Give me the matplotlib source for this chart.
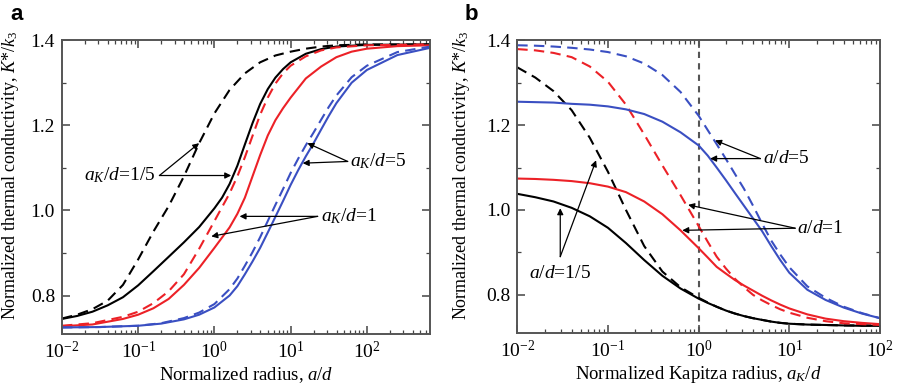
import matplotlib
matplotlib.use('Agg')
import matplotlib.pyplot as plt
from matplotlib.ticker import AutoMinorLocator, LogLocator, NullFormatter

plt.rcParams['font.family'] = ['Liberation Serif', 'DejaVu Serif']
plt.rcParams['mathtext.fontset'] = 'custom'
plt.rcParams['mathtext.rm'] = 'Liberation Serif'
plt.rcParams['mathtext.it'] = 'Liberation Serif:italic'
plt.rcParams['mathtext.bf'] = 'Liberation Serif:bold'

RED = '#ec2127'
BLUE = '#3a4fc2'

# ---- panel a: K*/k3 vs a/d ----
# aK/d = 1/5
a_x_k15_solid = [0.01, 0.0158, 0.0251, 0.0398, 0.0631, 0.1, 0.158, 0.251, 0.398, 0.631, 1.0, 1.26, 1.58, 2.0, 2.51,
                 3.16, 3.98, 5.01, 6.31, 7.94, 10, 15.8, 25.1, 39.8, 100, 676]
a_y_k15_solid = [0.745, 0.752, 0.762, 0.777, 0.796, 0.824, 0.857, 0.891, 0.925, 0.961, 1.005, 1.03, 1.062, 1.105, 1.155,
                 1.205, 1.25, 1.285, 1.312, 1.332, 1.348, 1.368, 1.379, 1.385, 1.389, 1.39]
a_x_k15_dash = [0.01, 0.0158, 0.0251, 0.0398, 0.0631, 0.1, 0.158, 0.251, 0.398, 0.631, 1.0, 1.58, 2.51, 3.98, 6.31,
                10, 15.8, 25.1, 39.8, 100, 676]
a_y_k15_dash = [0.746, 0.755, 0.768, 0.788, 0.825, 0.885, 0.95, 1.01, 1.08, 1.158, 1.228, 1.283, 1.322, 1.348, 1.364,
                1.373, 1.38, 1.385, 1.388, 1.39, 1.39]
# aK/d = 1
a_x_k1_solid = [0.01, 0.0251, 0.0631, 0.1, 0.158, 0.251, 0.398, 0.631, 1.0, 1.58, 2.0, 2.51, 3.16, 3.98, 5.01, 6.31,
                7.94, 10, 15.8, 25.1, 39.8, 63.1, 100, 251, 676]
a_y_k1_solid = [0.728, 0.732, 0.745, 0.755, 0.77, 0.792, 0.825, 0.865, 0.912, 0.96, 0.992, 1.03, 1.08, 1.13, 1.176, 1.212,
                1.24, 1.265, 1.31, 1.338, 1.36, 1.373, 1.38, 1.386, 1.388]
a_x_k1_dash = [0.01, 0.0251, 0.0631, 0.1, 0.158, 0.251, 0.398, 0.631, 1.0, 1.58, 2.0, 2.51, 3.16, 3.98, 5.01, 6.31,
               7.94, 10, 15.8, 25.1, 39.8, 100, 676]
a_y_k1_dash = [0.729, 0.735, 0.75, 0.762, 0.782, 0.81, 0.85, 0.91, 0.975, 1.04, 1.08, 1.125, 1.175, 1.225, 1.265, 1.298,
               1.322, 1.34, 1.362, 1.376, 1.383, 1.388, 1.39]
# aK/d = 5
a_x_k5_solid = [0.01, 0.0316, 0.1, 0.2, 0.398, 0.631, 1.0, 1.58, 2.0, 2.51, 3.16, 3.98, 5.01, 6.31, 7.94, 10, 12.6,
                15.8, 20, 25.1, 31.6, 39.8, 63.1, 100, 251, 676]
a_y_k5_solid = [0.725, 0.726, 0.729, 0.734, 0.744, 0.755, 0.772, 0.80, 0.822, 0.85, 0.88, 0.912, 0.948, 0.985, 1.022,
                1.06, 1.095, 1.127, 1.158, 1.19, 1.222, 1.252, 1.30, 1.33, 1.365, 1.382]
a_x_k5_dash = [0.01, 0.0316, 0.1, 0.2, 0.398, 0.631, 1.0, 1.58, 2.0, 2.51, 3.16, 3.98, 5.01, 6.31, 7.94, 10, 12.6,
               15.8, 20, 25.1, 31.6, 39.8, 63.1, 100, 251, 676]
a_y_k5_dash = [0.725, 0.726, 0.729, 0.735, 0.747, 0.76, 0.78, 0.815, 0.84, 0.87, 0.902, 0.937, 0.975, 1.013, 1.05,
               1.088, 1.122, 1.153, 1.183, 1.213, 1.243, 1.27, 1.313, 1.34, 1.372, 1.385]

# ---- panel b: K*/k3 vs aK/d ----
b_x = [0.01, 0.0158, 0.0251, 0.0398, 0.0631, 0.1, 0.158, 0.251, 0.398, 0.631, 1.0, 1.26, 1.58, 2.0, 2.51, 3.16, 3.98,
       5.01, 6.31, 7.94, 10, 15.8, 25.1, 39.8, 63.1, 100]
# a/d = 1/5
b_y_a15_solid = [1.038, 1.03, 1.02, 1.005, 0.985, 0.958, 0.922, 0.882, 0.845, 0.815, 0.791, 0.781, 0.772, 0.763, 0.756,
                 0.75, 0.745, 0.741, 0.737, 0.734, 0.732, 0.73, 0.729, 0.728, 0.727, 0.727]
b_y_a15_dash = [1.336, 1.312, 1.28, 1.235, 1.17, 1.09, 1.0, 0.915, 0.855, 0.818, 0.793, 0.782, 0.772, 0.763, 0.756,
                0.75, 0.745, 0.741, 0.737, 0.734, 0.732, 0.73, 0.729, 0.728, 0.728, 0.728]
# a/d = 1
b_y_a1_solid = [1.074, 1.073, 1.071, 1.068, 1.063, 1.055, 1.042, 1.02, 0.99, 0.952, 0.91, 0.888, 0.866, 0.85, 0.835,
                0.822, 0.81, 0.798, 0.787, 0.777, 0.768, 0.754, 0.744, 0.738, 0.734, 0.731]
b_y_a1_dash = [1.379, 1.376, 1.37, 1.36, 1.338, 1.302, 1.248, 1.178, 1.105, 1.035, 0.962, 0.925, 0.89, 0.862, 0.838,
               0.818, 0.8, 0.787, 0.776, 0.766, 0.758, 0.746, 0.738, 0.733, 0.731, 0.729]
# a/d = 5
b_y_a5_solid = [1.255, 1.254, 1.253, 1.25, 1.248, 1.244, 1.237, 1.226, 1.208, 1.183, 1.152, 1.128, 1.1, 1.07, 1.04,
                1.01, 0.98, 0.95, 0.915, 0.882, 0.852, 0.812, 0.788, 0.77, 0.756, 0.745]
b_y_a5_dash = [1.388, 1.387, 1.385, 1.382, 1.378, 1.372, 1.362, 1.345, 1.318, 1.278, 1.222, 1.188, 1.155, 1.12, 1.085,
               1.05, 1.01, 0.968, 0.928, 0.895, 0.865, 0.82, 0.793, 0.772, 0.757, 0.745]

fig = plt.figure(figsize=(8.98, 3.90), dpi=100)
ax1 = fig.add_axes([0.069, 0.144, 0.410, 0.753])
ax2 = fig.add_axes([0.576, 0.146, 0.404, 0.751])

lw = 1.5
dash = (0, (5, 3))

ax1.plot(a_x_k15_solid, a_y_k15_solid, color='k', lw=lw)
ax1.plot(a_x_k15_dash, a_y_k15_dash, color='k', lw=lw, ls=dash)
ax1.plot(a_x_k1_solid, a_y_k1_solid, color=RED, lw=lw)
ax1.plot(a_x_k1_dash, a_y_k1_dash, color=RED, lw=lw, ls=dash)
ax1.plot(a_x_k5_solid, a_y_k5_solid, color=BLUE, lw=lw)
ax1.plot(a_x_k5_dash, a_y_k5_dash, color=BLUE, lw=lw, ls=dash)

ax2.axvline(1.0, color='#555555', lw=1.5, ls=(0, (3, 2.5)))
ax2.plot(b_x, b_y_a15_solid, color='k', lw=lw)
ax2.plot(b_x, b_y_a15_dash, color='k', lw=lw, ls=dash)
ax2.plot(b_x, b_y_a1_solid, color=RED, lw=lw)
ax2.plot(b_x, b_y_a1_dash, color=RED, lw=lw, ls=dash)
ax2.plot(b_x, b_y_a5_solid, color=BLUE, lw=lw)
ax2.plot(b_x, b_y_a5_dash, color=BLUE, lw=lw, ls=dash)

ax1.set_xlim(0.01, 676)
ax2.set_xlim(0.01, 100)

for ax in (ax1, ax2):
    ax.set_xscale('log')
    ax.set_ylim(0.71, 1.40)
    ax.set_yticks([0.8, 1.0, 1.2, 1.4])
    ax.set_yticklabels(['0.8', '1.0', '1.2', '1.4'])
    ax.yaxis.set_minor_locator(AutoMinorLocator(2))
    ax.xaxis.set_major_locator(LogLocator(base=10, numticks=10))
    ax.xaxis.set_minor_locator(LogLocator(base=10, subs=range(2, 10), numticks=20))
    ax.xaxis.set_minor_formatter(NullFormatter())
    ax.tick_params(which='both', direction='in', top=True, right=True, color='#444444')
    ax.tick_params(which='major', length=6, width=1.1, labelsize=14, pad=5)
    ax.tick_params(which='minor', length=3, width=0.9)
    for s in ax.spines.values():
        s.set_color('#555555')
        s.set_linewidth(1.4)
    ax.set_ylabel('Normalized thermal conductivity, $K$*/$k_3$', fontsize=13)

ax1.yaxis.set_label_coords(-0.11, 0.54)
ax2.yaxis.set_label_coords(-0.125, 0.54)

ax1.set_xlabel('Normalized radius, $a/d$', fontsize=13.5, labelpad=2)
ax2.set_xlabel('Normalized Kapitza radius, $a_K/d$', fontsize=13.5, labelpad=2)

arr = dict(arrowstyle='-|>', color='k', lw=0.9, mutation_scale=9, shrinkA=0, shrinkB=0)
fs = 14

# panel a annotations
ax1.text(0.17, 1.082, '$a_K/d$=1/5', fontsize=fs, ha='right', va='center')
ax1.annotate('', xy=(0.63, 1.158), xytext=(0.19, 1.082), arrowprops=arr)
ax1.annotate('', xy=(1.66, 1.082), xytext=(0.19, 1.082), arrowprops=arr)
ax1.text(60, 1.115, '$a_K/d$=5', fontsize=fs, ha='left', va='center')
ax1.annotate('', xy=(16.6, 1.158), xytext=(56, 1.115), arrowprops=arr)
ax1.annotate('', xy=(14.4, 1.111), xytext=(56, 1.115), arrowprops=arr)
ax1.text(25, 0.986, '$a_K/d$=1', fontsize=fs, ha='left', va='center')
ax1.annotate('', xy=(2.14, 0.986), xytext=(22.6, 0.986), arrowprops=arr)
ax1.annotate('', xy=(0.91, 0.939), xytext=(22.6, 0.986), arrowprops=arr)

# panel b annotations
ax2.text(5.1, 1.121, '$a/d$=5', fontsize=fs, ha='left', va='center')
ax2.annotate('', xy=(1.52, 1.164), xytext=(4.8, 1.121), arrowprops=arr)
ax2.annotate('', xy=(1.34, 1.121), xytext=(4.8, 1.121), arrowprops=arr)
ax2.text(12.2, 0.957, '$a/d$=1', fontsize=fs, ha='left', va='center')
ax2.annotate('', xy=(0.766, 1.012), xytext=(11.6, 0.957), arrowprops=arr)
ax2.annotate('', xy=(0.66, 0.952), xytext=(11.6, 0.957), arrowprops=arr)
ax2.text(0.0298, 0.85, '$a/d$=1/5', fontsize=fs, ha='center', va='center')
ax2.annotate('', xy=(0.0298, 1.004), xytext=(0.0298, 0.89), arrowprops=arr)
ax2.annotate('', xy=(0.074, 1.117), xytext=(0.0298, 0.89), arrowprops=arr)

fig.text(0.018, 0.962, 'a', fontsize=16, fontweight='bold', family='Liberation Sans', ha='center', va='center')
fig.text(0.525, 0.962, 'b', fontsize=16, fontweight='bold', family='Liberation Sans', ha='center', va='center')

fig.savefig('out.png', dpi=100)
